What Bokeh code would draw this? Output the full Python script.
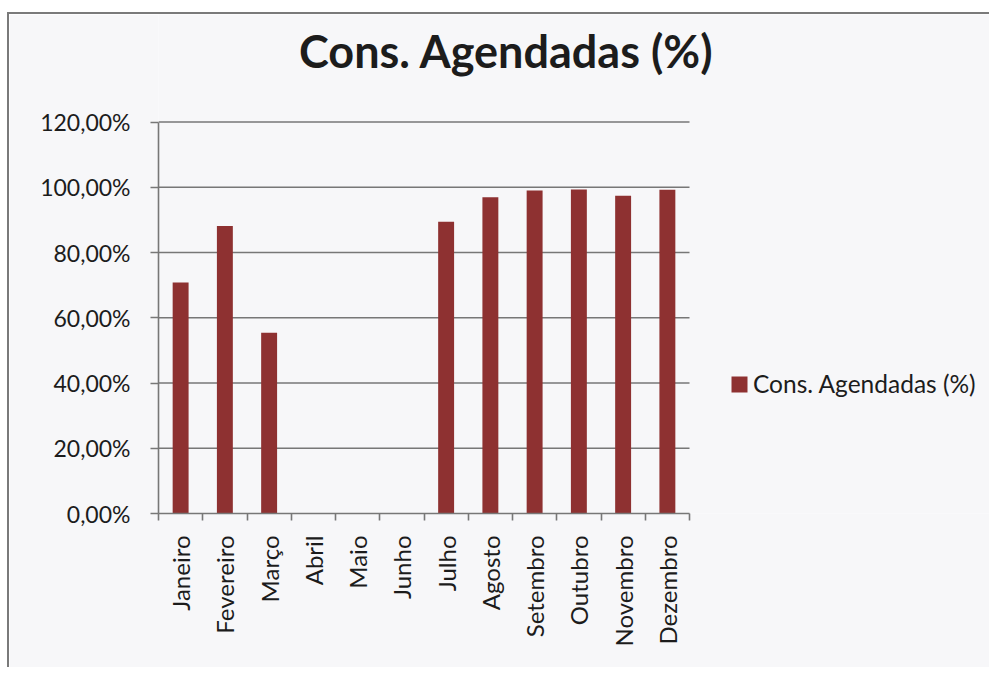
import math
from bokeh.plotting import figure
from bokeh.models import (Range1d, FixedTicker, LinearAxis, CustomJSTickFormatter,
                          Legend, LegendItem, ColumnDataSource, Label)
from bokeh.embed import file_html
from bokeh.resources import INLINE

# ---- data ----
months = ["Janeiro", "Fevereiro", "Março", "Abril", "Maio", "Junho",
          "Julho", "Agosto", "Setembro", "Outubro", "Novembro", "Dezembro"]
values = [70.8, 88.1, 55.4, None, None, None, 89.4, 96.9, 99.0, 99.3, 97.4, 99.2]
y_ticks = [0, 20, 40, 60, 80, 100, 120]
series_name = "Cons. Agendadas (%)"
title_text = "Cons. Agendadas (%)"

FONT = "Lato"
BAR = "#8E3131"
GRID = "#777777"
BG = "#F7F7F9"
TXT = "#1c1c1c"

n = len(months)
xs = [i + 0.5 for i, v in enumerate(values) if v is not None]
tops = [v for v in values if v is not None]
src = ColumnDataSource(dict(x=xs, top=tops))
grid_src = ColumnDataSource(dict(y=y_ticks[1:], x0=[0] * (len(y_ticks) - 1),
                                 x1=[n] * (len(y_ticks) - 1)))

# ---- layout (pixels) ----
W, H = 982, 655
ML, MB = 149, 156
AREA_W, AREA_H = 531.0, 391.5          # pixel size of the category/value area
frame_w, frame_h = W - ML, H - MB
px_x = AREA_W / n
px_y = AREA_H / y_ticks[-1]
x_end = frame_w / px_x
y_end = frame_h / px_y

p = figure(width=W, height=H, x_range=Range1d(0, x_end),
           y_range=Range1d(y_ticks[0], y_end),
           output_backend="svg", toolbar_location=None, x_axis_type=None,
           min_border_left=ML, min_border_top=0, min_border_right=0,
           min_border_bottom=MB)
p.styles = {"border-left": "2px solid #7a7a7a", "border-top": "2px solid #7a7a7a",
            "position": "relative", "left": "7px", "top": "12px"}
p.background_fill_color = BG
p.border_fill_color = BG
p.outline_line_color = None
p.xgrid.grid_line_color = None
p.ygrid.grid_line_color = None

# title (centred on the chart, drawn inside the extended frame)
title_cx = (497 - ML) / px_x
title_y = (frame_h - 36) / px_y
p.add_layout(Label(x=title_cx, y=title_y, text=title_text, text_font=FONT,
                   text_font_size="45px", text_font_style="bold",
                   text_color=TXT, text_align="center",
                   text_baseline="alphabetic"))

# y axis
yax = p.yaxis[0]
yax.ticker = FixedTicker(ticks=y_ticks)
yax.bounds = (y_ticks[0], y_ticks[-1])
yax.formatter = CustomJSTickFormatter(code="return tick.toFixed(2).replace('.', ',') + '%';")
yax.major_label_text_font = FONT
yax.major_label_text_font_size = "23px"
yax.major_label_text_color = TXT
yax.major_tick_out = 8
yax.major_tick_in = 0
yax.minor_tick_line_color = None
yax.major_label_standoff = 20
yax.axis_line_color = GRID
yax.axis_line_width = 1.6
yax.major_tick_line_color = GRID
yax.major_tick_line_width = 1.6

# horizontal gridlines across the category area only
p.segment(x0="x0", x1="x1", y0="y", y1="y", source=grid_src,
          line_color=GRID, line_width=1.6)

# x axis: labels at category centres, ticks at category boundaries
xax = LinearAxis(
    ticker=FixedTicker(ticks=[i + 0.5 for i in range(n)],
                       minor_ticks=list(range(n + 1))),
    formatter=CustomJSTickFormatter(args=dict(labels=months),
                                    code="return labels[Math.floor(tick)] || '';"),
    bounds=(0, n),
    major_label_orientation=math.pi / 2,
    major_label_text_font=FONT, major_label_text_font_size="24px",
    major_label_text_color=TXT, major_label_standoff=15,
    major_tick_line_color=None, major_tick_out=0, major_tick_in=0,
    minor_tick_out=7, minor_tick_in=0, minor_tick_line_color=GRID,
    minor_tick_line_width=1.6, axis_line_color=GRID, axis_line_width=1.6)
p.add_layout(xax, "below")

r = p.vbar(x="x", top="top", width=0.36, source=src, fill_color=BAR, line_color=None)

legend = Legend(items=[LegendItem(label=series_name, renderers=[r])],
                location=(571, 115), glyph_width=20, glyph_height=20,
                label_standoff=4, padding=0, margin=0, border_line_color=None,
                background_fill_alpha=0, label_text_font=FONT,
                label_text_font_size="24.5px", label_text_color=TXT)
p.add_layout(legend)

open("out.html", "w").write(file_html(p, INLINE))
